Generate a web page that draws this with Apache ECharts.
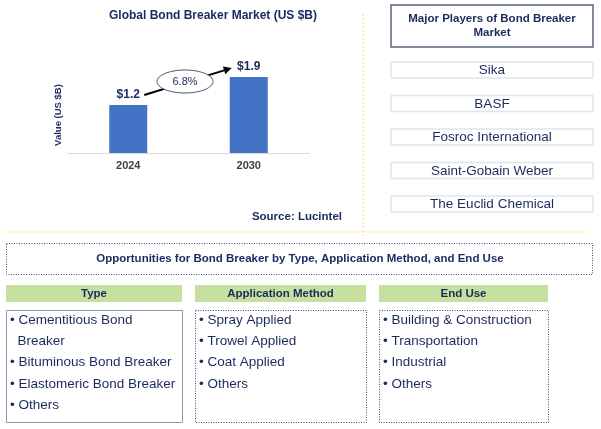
<!DOCTYPE html>
<html><head><meta charset="utf-8">
<script src="https://cdn.jsdelivr.net/npm/echarts@6/dist/echarts.min.js"></script>
<style>html,body{margin:0;padding:0;background:#fff}#c{width:601px;height:429px}</style>
</head><body><div id="c"></div>
<script>
var years = ['2024', '2030'];
var marketValues = [1.2, 1.9];
var cagrLabel = '6.8%';
var chartTitle = 'Global Bond Breaker Market (US $B)';
var yAxisTitle = 'Value (US $B)';
var sourceText = 'Source: Lucintel';
var playersTitle = ['Major Players of Bond Breaker', 'Market'];
var players = ['Sika', 'BASF', 'Fosroc International', 'Saint-Gobain Weber', 'The Euclid Chemical'];
var oppTitle = 'Opportunities for Bond Breaker by Type, Application Method, and End Use';
var segHeaders = ['Type', 'Application Method', 'End Use'];
var typeItems = ['• Cementitious Bond', '  Breaker', '• Bituminous Bond Breaker', '• Elastomeric Bond Breaker', '• Others'];
var appItems = ['• Spray Applied', '• Trowel Applied', '• Coat Applied', '• Others'];
var endUseItems = ['• Building & Construction', '• Transportation', '• Industrial', '• Others'];

var NAVY = '#1b2a5e';
var FONT = '"Liberation Sans", Arial, sans-serif';
var chart = echarts.init(document.getElementById('c'));

var option = {
  animation: false,
  title: {
    text: chartTitle, left: 208, top: 5, textAlign: 'center',
    textStyle: {color: NAVY, fontSize: 12, fontWeight: 'bold', fontFamily: FONT}
  },
  grid: {left: 68, right: 292, top: 33, bottom: 276},
  xAxis: {
    type: 'category', data: years,
    axisLine: {lineStyle: {color: '#d9d9d9', width: 1}},
    axisTick: {show: false},
    axisLabel: {color: '#404040', fontSize: 11, fontWeight: 'bold', fontFamily: FONT, margin: 7}
  },
  yAxis: {type: 'value', min: 0, max: 3, show: false, splitLine: {show: false}},
  series: [{
    type: 'bar', data: marketValues, barWidth: 38,
    itemStyle: {color: '#4472c4'},
    label: {show: true, position: 'top', distance: 4, color: NAVY, fontSize: 12, fontWeight: 'bold', fontFamily: FONT,
      formatter: function (p) { return '$' + p.value; }}
  }]
};
chart.setOption(option);

var p1 = chart.convertToPixel({seriesIndex: 0}, [0, marketValues[0]]);
var p2 = chart.convertToPixel({seriesIndex: 0}, [1, marketValues[1]]);
var ax = p1[0] + 16, ay = p1[1] - 10, bx = p2[0] - 17, by = p2[1] - 9;
var dx = bx - ax, dy = by - ay, L = Math.sqrt(dx * dx + dy * dy), ux = dx / L, uy = dy / L;
var hl = 8, hw = 4;
var baseX = bx - ux * hl, baseY = by - uy * hl;

var g = [];
function txt(t, x, y, size, weight, color, align) {
  g.push({type: 'text', z: 10, style: {text: t, x: x, y: y, fill: color || NAVY,
    font: (weight || 'normal') + ' ' + size + 'px ' + FONT, align: align || 'center', verticalAlign: 'middle'}});
}
function rect(x, y, w, h, st) {
  g.push({type: 'rect', z: 5, shape: {x: x, y: y, width: w, height: h}, style: st});
}
// arrow
g.push({type: 'line', z: 6, shape: {x1: ax, y1: ay, x2: baseX, y2: baseY}, style: {stroke: '#000', lineWidth: 2}});
g.push({type: 'polygon', z: 6, shape: {points: [[bx, by], [baseX + (-uy) * hw, baseY + ux * hw], [baseX - (-uy) * hw, baseY - ux * hw]]}, style: {fill: '#000'}});
var ex = (ax + bx) / 2 - 3, ey = (ay + by) / 2;
g.push({type: 'ellipse', z: 7, shape: {cx: ex, cy: ey, rx: 28, ry: 11.5}, style: {fill: '#fff', stroke: '#44546a', lineWidth: 1}});
txt(cagrLabel, ex, ey, 11, 'normal', NAVY);
// y axis title
g.push({type: 'text', z: 10, x: 58, y: 115, rotation: Math.PI / 2,
  style: {text: yAxisTitle, x: 0, y: 0, fill: NAVY, font: 'bold 9.5px ' + FONT, align: 'center', verticalAlign: 'middle'}});
txt(sourceText, 342, 217, 11.5, 'bold', NAVY, 'right');
// yellow dotted separators
g.push({type: 'line', z: 3, shape: {x1: 363, y1: 14, x2: 363, y2: 236}, style: {stroke: '#ffd966', lineWidth: 1, lineDash: [2, 2]}});
g.push({type: 'line', z: 3, shape: {x1: 5, y1: 232, x2: 587, y2: 232}, style: {stroke: '#ffd966', lineWidth: 1, lineDash: [2, 2]}});
// players panel
rect(391, 5, 202, 42, {fill: '#fff', stroke: '#5b6580', lineWidth: 1.5});
txt(playersTitle[0], 492, 18.5, 11.5, 'bold', NAVY);
txt(playersTitle[1], 492, 33, 11.5, 'bold', NAVY);
for (var i = 0; i < players.length; i++) {
  var yy = 62 + i * 33.5;
  rect(391, yy, 202, 16, {fill: '#fff', stroke: '#dce6f2', lineWidth: 1.5});
  txt(players[i], 492, yy + 8.5, 13.5, 'normal', NAVY);
}
// opportunities
rect(6.5, 243.5, 586, 31, {fill: 'none', stroke: '#3b4a86', lineWidth: 1, lineDash: [1, 1.5]});
txt(oppTitle, 300, 259, 11.5, 'bold', NAVY);
var cols = [{x: 6, w: 176, items: typeItems, solid: true}, {x: 195, w: 171, items: appItems}, {x: 379, w: 169, items: endUseItems}];
var rowY = [320, 341, 362, 384, 405];
for (var c = 0; c < cols.length; c++) {
  var col = cols[c];
  rect(col.x, 285, col.w, 17, {fill: '#c6e0a0'});
  txt(segHeaders[c], col.x + col.w / 2, 293.5, 11.5, 'bold', NAVY);
  rect(col.x + 0.5, 310.5, col.w, 112, col.solid ? {fill: 'none', stroke: '#8a9bb8', lineWidth: 1}
    : {fill: 'none', stroke: '#3b4a86', lineWidth: 1, lineDash: [1, 1.5]});
  for (var k = 0; k < col.items.length; k++) {
    txt(col.items[k], col.x + 4, rowY[k], 13.5, 'normal', NAVY, 'left');
  }
}
chart.setOption({graphic: {elements: g}});
</script>
</body></html>
